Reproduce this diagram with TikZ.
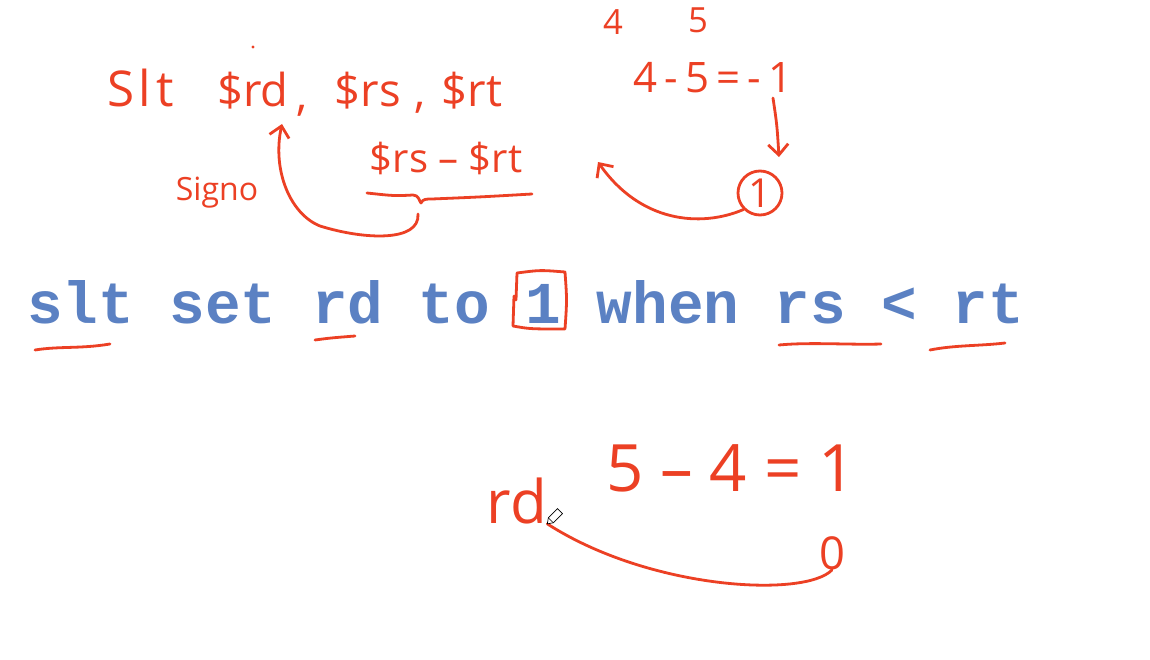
\documentclass[tikz,border=0pt]{standalone}
\usepackage{fontspec}
\setmainfont{Open Sans}
\newfontfamily\codefont{Liberation Mono}
\usetikzlibrary{arrows.meta}
\definecolor{pen}{HTML}{EC4024}
\definecolor{slide}{HTML}{5B81C3}
\newcommand{\fs}[1]{\fontsize{#1}{#1}\selectfont}
\begin{document}
\begin{tikzpicture}[x=0.75pt,y=-0.75pt,
  hand/.style={text=pen, inner sep=0pt},
  hbase/.style={hand, anchor=base},
  stroke/.style={draw=pen, line width=2.1pt, line cap=round, line join=round},
  barb/.style={-{Straight Barb[length=8pt,width=15pt,line width=2.1pt]}},
  code/.style={text=slide, font=\codefont\bfseries\fs{44.5}, anchor=base west, inner sep=0pt}]
\useasboundingbox[fill=white] (0,0) rectangle (1150,660);

% ---- slide text ----
\node[code] (wslt)  at (27,323)    {slt};
\node[code] (wset)  at (169.4,323) {set};
\node[code] (wrd)   at (311.8,323) {rd};
\node[code] (wto)   at (418.6,323) {to};
\node[code] (wone)  at (525.4,323) {1};
\node[code] (wwhen) at (596.6,323) {when};
\node[code] (wrs)   at (774.6,323) {rs};
\node[code] (wlt)   at (881.4,323) {<};
\node[code] (wrt)   at (952.6,323) {rt};

% underlines and box
\draw[stroke] (35,350) .. controls (60,346) and (80,349) .. (110,344);
\draw[stroke] (315,340) .. controls (330,338) .. (355,336);
\draw[stroke] (779,345) .. controls (810,342) and (850,345) .. (881,344);
\draw[stroke] (930,350) .. controls (955,345) and (980,346) .. (1005,343);
\draw[stroke] (514,296) -- (513,326) .. controls (530,329) .. (565,329)
  .. controls (567,300) .. (565,272) .. controls (540,270) .. (517,273) -- (516,300);

% ---- top-left handwriting ----
\node[hbase, font=\fs{37}] (hslt) at (141,107) {S\kern3pt l\kern4pt t};
\node[hbase, font=\fs{34}] (hrd)  at (253,107) {\$rd};
\node[hbase, font=\fs{34}] (hc1)  at (302,110) {,};
\node[hbase, font=\fs{34}] (hrs)  at (368,107) {\$rs};
\node[hbase, font=\fs{34}] (hc2)  at (420,108) {,};
\node[hbase, font=\fs{34}] (hrt)  at (472,107) {\$rt};
\fill[pen] (253,47) circle (1.6);
\node[hbase, font=\fs{30}] (diff)  at (446,172) {\$rs -- \$rt};
\node[hbase, font=\fs{24}] (signo) at (217,200) {Signo};

% brace under $rs-$rt
\draw[stroke] (367,193) .. controls (395,196) .. (413,195)
  .. controls (419,195) and (419,201) .. (421,203)
  .. controls (423,199) and (426,199) .. (432,199)
  .. controls (480,197) .. (532,194);
\coordinate (bstart) at (418,214);
\coordinate (rdarr) at (282,124);
\draw[stroke, barb] (bstart) .. controls (420,242) and (365,240) .. (320,226)
  .. controls (290,214) and (272,170) .. (rdarr);

% ---- top-right ----
\node[hand, font=\fs{26}] (four) at (613,22) {4};
\node[hand, font=\fs{26}] (five) at (698,20) {5};
\node[hand, font=\fs{31.5}] (eq1) at (713,78) {4\,-\,5\,=\,-\,1};
\node[hand, font=\fs{30}, draw=pen, line width=2.1pt, circle, minimum size=33pt] (c1) at (760,193) {1};
\coordinate (a1s) at (773,98);
\draw[stroke, barb] (a1s) .. controls (777,125) .. ([shift={(19,-36)}]c1.center);
\coordinate (a2e) at (598,162);
\draw[stroke, barb] (c1.south west) .. controls (700,228) and (640,222) .. (a2e);

% ---- bottom ----
\node[hand, font=\fs{49}] (eq2) at (731,468) {5 -- 4 = 1};
\node[hbase, font=\fs{45}] (rd2) at (517,523) {rd};
\node[hand, font=\fs{34}] (zero) at (832,553) {0};
\draw[stroke] (zero.south) .. controls (805,598) and (650,590) .. (rd2.south east);

% pencil cursor
\begin{scope}[shift={(rd2.south east)}, rotate=45]
  \draw[black, fill=white, line width=0.5pt] (0,0) -- (5,-3.5) -- (18,-3.5) -- (18,3.5) -- (5,3.5) -- cycle;
  \draw[black, line width=0.5pt] (5,-3.5) -- (5,3.5);
\end{scope}
\end{tikzpicture}
\end{document}
